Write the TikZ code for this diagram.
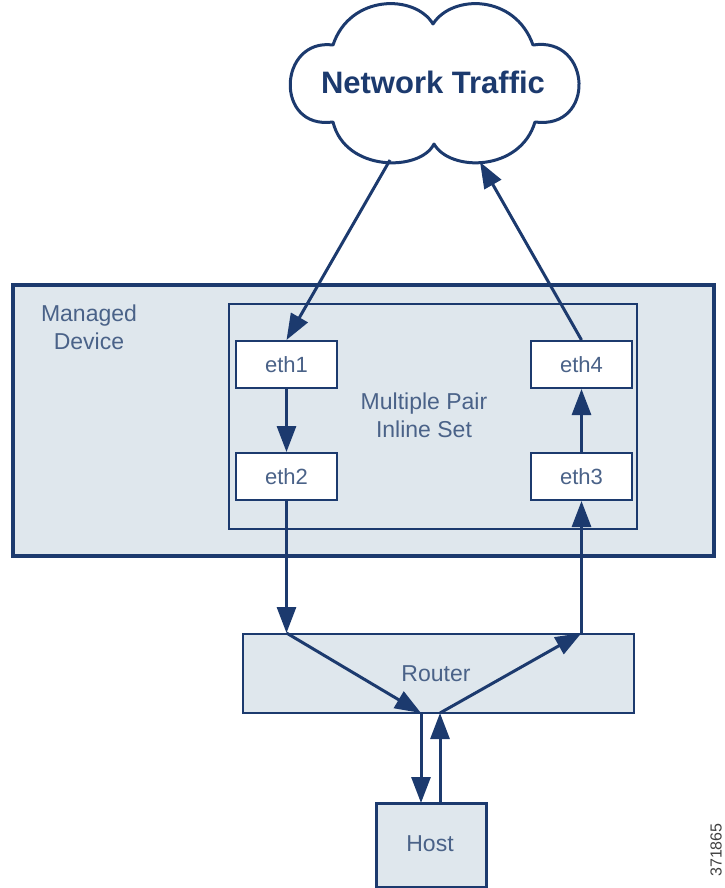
\documentclass[tikz,border=0pt]{standalone}
\usepackage{fontspec}
\setmainfont{Liberation Sans}
\usetikzlibrary{arrows.meta}
\definecolor{navy}{HTML}{1C3A6E}
\definecolor{txt}{HTML}{4A6288}
\definecolor{boxfill}{HTML}{DFE7ED}
\begin{document}
\begin{tikzpicture}[x=1pt,y=-1pt,
  lbl/.style={text=txt, font=\fontsize{23}{28}\selectfont, align=center, inner sep=0pt},
  ethbox/.style={draw=navy, line width=2pt, fill=white, minimum width=101pt, minimum height=47pt, inner sep=0pt, text=txt, font=\fontsize{22}{26}\selectfont},
  grpbox/.style={draw=navy, fill=boxfill, inner sep=0pt},
  flow/.style={draw=navy, line width=3pt, -{Triangle[length=26pt,width=19pt]}}
]
\useasboundingbox (0,0) rectangle (724,888);

% cloud
\draw[navy, line width=3pt, fill=white, line join=round]
  (333,45) .. controls (350,-6) and (415,-6) .. (433,24)
  .. controls (452,-6) and (515,-6) .. (533,45)
  .. controls (592,36) and (596,130) .. (535,122)
  .. controls (520,172) and (450,172) .. (434,144)
  .. controls (420,172) and (345,172) .. (333,122)
  .. controls (274,130) and (278,38) .. (333,45) -- cycle;
\node (nt) at (433,82) [text=navy, font=\fontsize{31}{36}\selectfont\bfseries, inner sep=0pt] {Network Traffic};
\coordinate (cl1) at (390,160);
\coordinate (cl2) at (480,162);

% managed device
\node (md) at (363.5,420.5) [grpbox, line width=4pt, minimum width=701pt, minimum height=271pt] {};
\node (mdl) at (89,327) [lbl] {Managed\\Device};

% inline set
\node (is) at (433,416.5) [grpbox, line width=2pt, minimum width=408pt, minimum height=225pt] {};
\node (isl) at (424,415) [lbl] {Multiple Pair\\Inline Set};

\node (e1) at (286.5,364.5) [ethbox] {eth1};
\node (e2) at (286.5,476.5) [ethbox] {eth2};
\node (e4) at (581.5,364.5) [ethbox] {eth4};
\node (e3) at (581.5,476.5) [ethbox] {eth3};

% router and host
\node (rt) at (438.5,673.5) [grpbox, line width=2pt, minimum width=391pt, minimum height=79pt] {};
\node (rtl) at (436,674) [lbl] {Router};
\node (hs) at (431,845) [grpbox, line width=3pt, minimum width=110pt, minimum height=84pt] {};
\node (hsl) at (430,844) [lbl] {Host};

\coordinate (rin) at (e2.south |- rt.north);
\coordinate (rout) at (e3.south |- rt.north);
\coordinate (hin) at (421,713);
\coordinate (hout) at (440,713);
\coordinate (hintop) at (421,803);
\coordinate (houttop) at (440,803);

% connectors
\draw[flow] (cl1) -- (e1.north);
\draw[flow] (e4.north) -- (cl2);
\draw[flow] (e1.south) -- (e2.north);
\draw[flow] (e3.north) -- (e4.south);
\draw[flow] (e2.south) -- (rin);
\draw[flow] (rin) -- (hin);
\draw[flow] (hin) -- (hintop);
\draw[flow] (houttop) -- (hout);
\draw[flow] (hout) -- (rout);
\draw[flow] (rout) -- (e3.south);

\node (num) at (716,850) [rotate=90, text=black!75, font=\fontsize{16}{18}\selectfont, inner sep=0pt] {371865};
\end{tikzpicture}
\end{document}
